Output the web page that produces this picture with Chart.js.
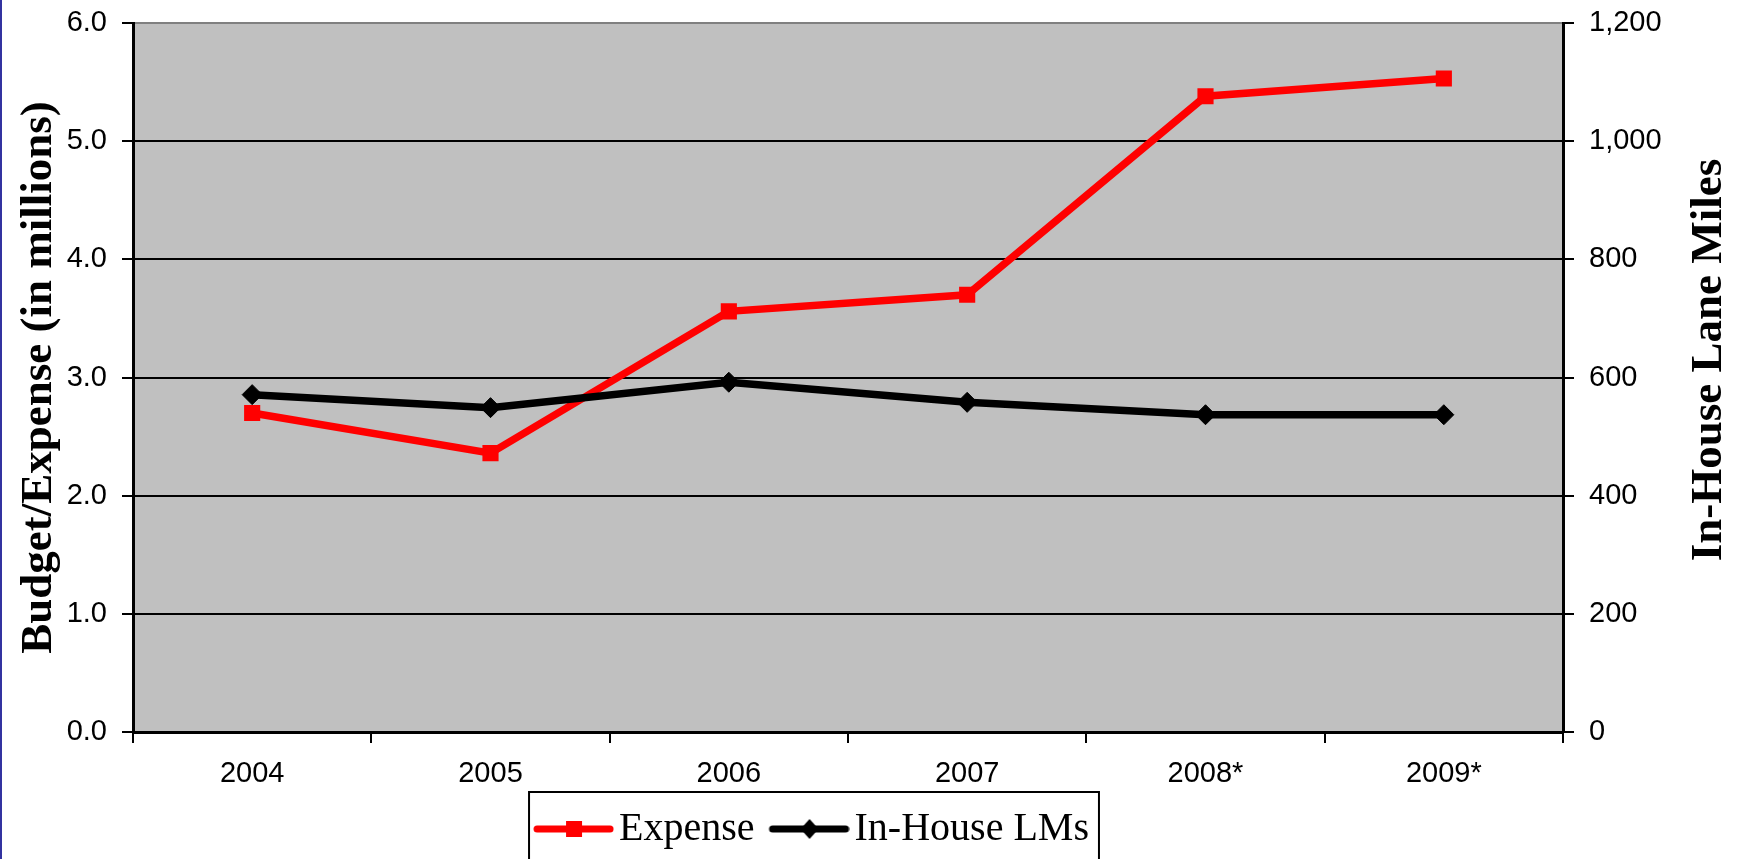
<!DOCTYPE html>
<html>
<head>
<meta charset="utf-8">
<script src="https://cdn.jsdelivr.net/npm/chart.js@4/dist/chart.umd.min.js"></script>
<style>
  html, body { margin: 0; padding: 0; background: #fff; }
  #wrap { width: 1742px; height: 859px; }
</style>
</head>
<body>
<div id="wrap"><canvas id="myChart" width="1742" height="859"></canvas></div>
<script>
// dane wykresu
const years = ['2004', '2005', '2006', '2007', '2008*', '2009*'];
const expenseValues = [2.70, 2.36, 3.56, 3.70, 5.38, 5.53];
const laneMilesValues = [571, 549, 592, 558, 537, 537];
const leftTickLabels = ['0.0', '1.0', '2.0', '3.0', '4.0', '5.0', '6.0'];
const rightTickLabels = ['0', '200', '400', '600', '800', '1,000', '1,200'];
const leftTitle = 'Budget/Expense (in millions)';
const rightTitle = 'In-House Lane Miles';

// ikonki legendy: linia + znacznik
function makeLegendIcon(color, shape) {
    var c = document.createElement('canvas');
    c.width = 98;
    c.height = 26;
    var g = c.getContext('2d');
    g.strokeStyle = color;
    g.fillStyle = color;
    g.lineWidth = 7;
    g.lineCap = 'round';
    g.beginPath();
    g.moveTo(21, 13);
    g.lineTo(94, 13);
    g.stroke();
    var cx = 58;
    if (shape === 'rect') {
        g.fillRect(cx - 8, 5, 16, 16);
    } else {
        g.beginPath();
        g.moveTo(cx, 3);
        g.lineTo(cx + 9, 13);
        g.lineTo(cx, 23);
        g.lineTo(cx - 9, 13);
        g.closePath();
        g.fill();
    }
    return c;
}
var legendIcons = [makeLegendIcon('#ff0000', 'rect'), makeLegendIcon('#000000', 'diamond')];

var xTickFont = { family: 'Liberation Sans', size: 29 };
var yTickFont = { family: 'Liberation Sans', size: 29, lineHeight: 0.55 };
var titleFont = { family: 'Liberation Serif', size: 45, weight: 'bold' };

var decorPlugin = {
    id: 'decor',
    afterLayout: function (chart) {
        // przesuniecie legendy troche w lewo, jak w oryginale
        chart.legend.left -= 61;
        chart.legend.right -= 61;
    },
    beforeDraw: function (chart) {
        var ctx = chart.ctx;
        var a = chart.chartArea;
        ctx.save();
        ctx.fillStyle = '#ffffff';
        ctx.fillRect(0, 0, chart.width, chart.height);
        ctx.fillStyle = '#3232a0';
        ctx.fillRect(0, 0, 2, chart.height);
        ctx.fillStyle = '#c0c0c0';
        ctx.fillRect(a.left, a.top, a.right - a.left, a.bottom - a.top);
        ctx.restore();
    },
    afterDraw: function (chart) {
        var ctx = chart.ctx;
        ctx.save();
        // tytul prawej osi (czytany od dolu)
        ctx.translate(1709, 360);
        ctx.rotate(-Math.PI / 2);
        ctx.font = 'bold 45px "Liberation Serif"';
        ctx.fillStyle = '#000';
        ctx.textAlign = 'center';
        ctx.textBaseline = 'middle';
        ctx.fillText(rightTitle, 0, 0);
        ctx.restore();

        // ramka legendy
        var lg = chart.legend;
        var hb = lg.legendHitBoxes;
        if (hb && hb.length) {
            var last = hb[hb.length - 1];
            var x0 = hb[0].left - 2;
            var x1 = last.left + last.width + 10;
            ctx.save();
            ctx.strokeStyle = '#000';
            ctx.lineWidth = 2;
            ctx.strokeRect(x0, lg.top - 5, x1 - x0, chart.height + 20 - lg.top);
            ctx.restore();
        }
    }
};

function generateChart() {
    var ctx = document.getElementById('myChart').getContext('2d');
    window.myLineChart = new Chart(ctx, {
        type: 'line',
        data: {
            labels: years,
            datasets: [
                {
                    label: 'Expense',
                    data: expenseValues,
                    yAxisID: 'y',
                    borderColor: '#ff0000',
                    backgroundColor: '#ff0000',
                    borderWidth: 7.5,
                    pointStyle: 'rect',
                    pointRadius: 10,
                    pointBorderWidth: 2,
                    pointBackgroundColor: '#ff0000',
                    pointBorderColor: '#ff0000',
                    tension: 0,
                    fill: false,
                    order: 1
                },
                {
                    label: 'In-House LMs',
                    data: laneMilesValues,
                    yAxisID: 'y2',
                    borderColor: '#000000',
                    backgroundColor: '#000000',
                    borderWidth: 7.5,
                    pointStyle: 'rectRot',
                    pointRadius: 10,
                    pointBorderWidth: 1,
                    pointBackgroundColor: '#000000',
                    pointBorderColor: '#000000',
                    tension: 0,
                    fill: false,
                    order: 0
                }
            ]
        },
        options: {
            responsive: false,
            animation: false,
            events: [],
            layout: {
                padding: { left: 0, right: 0, top: 23, bottom: 0 }
            },
            plugins: {
                tooltip: { enabled: false },
                legend: {
                    display: true,
                    position: 'bottom',
                    align: 'center',
                    labels: {
                        usePointStyle: true,
                        pointStyleWidth: 68,
                        padding: 12,
                        color: '#000',
                        font: { family: 'Liberation Serif', size: 40 },
                        generateLabels: function (chart) {
                            return chart.data.datasets.map(function (ds, i) {
                                return {
                                    text: ds.label,
                                    pointStyle: legendIcons[i],
                                    fillStyle: 'rgba(0,0,0,0)',
                                    strokeStyle: 'rgba(0,0,0,0)',
                                    lineWidth: 0,
                                    fontColor: '#000',
                                    hidden: false,
                                    datasetIndex: i
                                };
                            });
                        }
                    }
                }
            },
            scales: {
                x: {
                    offset: true,
                    grid: {
                        offset: true,
                        drawOnChartArea: false,
                        color: '#000',
                        lineWidth: 2,
                        tickLength: 11
                    },
                    border: { color: '#000', width: 3 },
                    ticks: { color: '#000', font: xTickFont, padding: 14, maxRotation: 0 },
                    afterFit: function (s) { s.height = 65; }
                },
                y: {
                    position: 'left',
                    min: 0,
                    max: 6,
                    ticks: {
                        stepSize: 1,
                        color: '#000',
                        font: yTickFont,
                        padding: 15,
                        callback: function (v, i) { return leftTickLabels[i]; }
                    },
                    grid: {
                        color: function (c) { return c.tick && c.tick.value === 6 ? '#808080' : '#000'; },
                        tickColor: '#000',
                        lineWidth: 2,
                        tickLength: 11
                    },
                    border: { color: '#000', width: 3 },
                    title: {
                        display: true,
                        text: leftTitle,
                        color: '#000',
                        font: titleFont,
                        padding: { top: 12, bottom: 0 }
                    },
                    afterFit: function (s) { s.width = 133; }
                },
                y2: {
                    position: 'right',
                    min: 0,
                    max: 1200,
                    ticks: {
                        stepSize: 200,
                        color: '#000',
                        font: yTickFont,
                        padding: 15,
                        callback: function (v, i) { return rightTickLabels[i]; }
                    },
                    grid: {
                        drawOnChartArea: false,
                        color: '#000',
                        lineWidth: 2,
                        tickLength: 11
                    },
                    border: { color: '#000', width: 3 },
                    afterFit: function (s) { s.width = 179; }
                }
            }
        },
        plugins: [decorPlugin]
    });
}

document.addEventListener('DOMContentLoaded', generateChart);
</script>
</body>
</html>
